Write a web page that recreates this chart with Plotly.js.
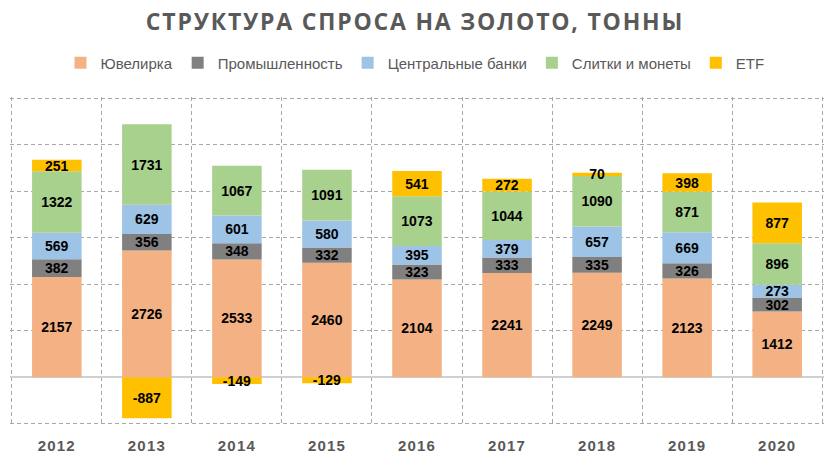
<!DOCTYPE html>
<html>
<head>
<meta charset="utf-8">
<script src="https://cdn.plot.ly/plotly-3.0.1.min.js"></script>
<style>
  html, body { margin: 0; padding: 0; background: #fff; }
  #chart { width: 830px; height: 459px; }
  .gtitle { letter-spacing: 1.8px; }
  .xtick text { letter-spacing: 1.2px; }
  .gridlayer path { stroke-dasharray: 4px 3px; }
</style>
</head>
<body>
<div id="chart"></div>
<script>
const years = ['2012','2013','2014','2015','2016','2017','2018','2019','2020'];
const jewelry = [2157, 2726, 2533, 2460, 2104, 2241, 2249, 2123, 1412];
const industry = [382, 356, 348, 332, 323, 333, 335, 326, 302];
const centralBanks = [569, 629, 601, 580, 395, 379, 657, 669, 273];
const barsCoins = [1322, 1731, 1067, 1091, 1073, 1044, 1090, 871, 896];
const etf = [251, -887, -149, -129, 541, 272, 70, 398, 877];

const seriesNames = ['Ювелирка', 'Промышленность', 'Центральные банки', 'Слитки и монеты', 'ETF'];
const seriesValues = [jewelry, industry, centralBanks, barsCoins, etf];
const seriesColors = ['#F4B183', '#808080', '#9DC3E6', '#A9D18E', '#FFC000'];

const traces = seriesValues.map((vals, i) => ({
  type: 'bar',
  name: seriesNames[i],
  x: years,
  y: vals,
  marker: { color: seriesColors[i], line: { width: 0 } },
  text: vals.map(String),
  texttemplate: '%{text}',
  textposition: 'inside',
  insidetextanchor: 'middle',
  constraintext: 'none',
  textangle: 0,
  textfont: { family: 'Liberation Sans, Arial, sans-serif', size: 14, color: '#000000', weight: 'bold' },
  hoverinfo: 'skip'
}));

// invisible helper trace on overlaid linear axes: their gridlines draw the dashed frame and grid
const gridHelper = {
  type: 'scatter', mode: 'markers', x: [0], y: [0], xaxis: 'x2', yaxis: 'y2',
  marker: { opacity: 0 }, showlegend: false, hoverinfo: 'skip'
};

const yRange = [-1030, 6030];
const gridColor = '#a8a8a8';

const layout = {
  width: 830,
  height: 459,
  margin: { l: 10, r: 6, t: 97, b: 34 },
  paper_bgcolor: '#ffffff',
  plot_bgcolor: '#ffffff',
  barmode: 'relative',
  bargap: 0.45,
  showlegend: true,
  title: {
    text: 'СТРУКТУРА СПРОСА НА ЗОЛОТО, ТОННЫ',
    x: 0.5, xanchor: 'center',
    y: 1 - 22 / 459, yref: 'container', yanchor: 'middle',
    font: { family: 'Open Sans, Liberation Sans, sans-serif', size: 23, color: '#595959', weight: 'bold' }
  },
  legend: {
    orientation: 'h',
    x: 0.5, xanchor: 'center', xref: 'container',
    y: 1 - 63 / 459, yanchor: 'middle', yref: 'container',
    font: { family: 'Liberation Sans, Arial, sans-serif', size: 15, color: '#595959' },
    traceorder: 'normal',
    itemwidth: 30
  },
  xaxis: {
    type: 'category',
    range: [-0.52, 8.52],
    ticks: '',
    showgrid: false,
    showline: false,
    zeroline: false,
    ticklabelstandoff: 10,
    tickfont: { family: 'Liberation Sans, Arial, sans-serif', size: 15, color: '#595959', weight: 'bold' },
    fixedrange: true
  },
  yaxis: {
    range: yRange,
    dtick: 1000,
    tick0: 0,
    showticklabels: false,
    ticks: '',
    showgrid: false,
    zeroline: true,
    zerolinecolor: '#d0d0d0',
    zerolinewidth: 1.5,
    showline: false,
    fixedrange: true
  },
  xaxis2: {
    overlaying: 'x',
    anchor: 'y2',
    range: [-0.02, 9.02],
    tick0: 0,
    dtick: 1,
    showticklabels: false,
    ticks: '',
    showgrid: true,
    gridcolor: gridColor,
    gridwidth: 1,
    zeroline: false,
    showline: false,
    fixedrange: true
  },
  yaxis2: {
    overlaying: 'y',
    anchor: 'x2',
    range: yRange,
    tick0: 0,
    dtick: 1000,
    showticklabels: false,
    ticks: '',
    showgrid: true,
    gridcolor: gridColor,
    gridwidth: 1,
    zeroline: false,
    showline: false,
    fixedrange: true
  }
};

Plotly.newPlot('chart', traces.concat([gridHelper]), layout, { displayModeBar: false, staticPlot: true });
</script>
</body>
</html>
